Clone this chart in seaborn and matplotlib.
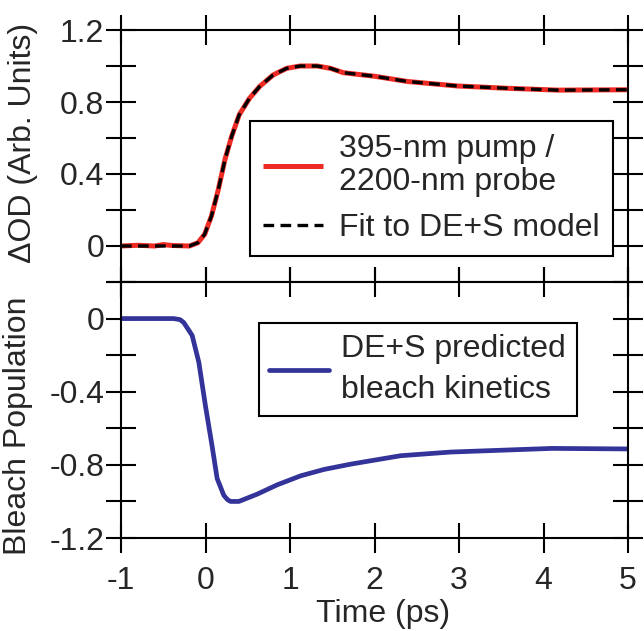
import matplotlib
matplotlib.use("Agg")
import matplotlib.pyplot as plt
import seaborn as sns
import pandas as pd
from matplotlib.ticker import FixedLocator, FixedFormatter

# ---- data ----
time_od = [-1.0, -0.8, -0.6, -0.5, -0.4, -0.19, -0.09, -0.01, 0.07, 0.15, 0.23,
           0.31, 0.40, 0.52, 0.64, 0.80, 0.96, 1.12, 1.32, 1.48, 1.63, 1.87,
           2.0, 2.39, 2.98, 3.58, 4.17, 5.0]
od_meas = [0.0, 0.004, 0.0, 0.008, 0.003, 0.0, 0.018, 0.065, 0.166, 0.31, 0.48,
           0.61, 0.73, 0.82, 0.886, 0.95, 0.987, 1.0, 1.0, 0.987, 0.963, 0.95,
           0.943, 0.914, 0.889, 0.876, 0.866, 0.868]
od_fit = [0.0, 0.0, 0.0, 0.0, 0.0, 0.0, 0.018, 0.065, 0.166, 0.31, 0.48,
          0.61, 0.73, 0.82, 0.886, 0.95, 0.987, 1.0, 1.0, 0.987, 0.963, 0.95,
          0.943, 0.914, 0.889, 0.876, 0.866, 0.868]

time_bl = [-1.0, -0.375, -0.30, -0.257, -0.158, -0.079, 0.0, 0.079, 0.138,
           0.217, 0.26, 0.296, 0.395, 0.613, 0.85, 1.126, 1.403, 1.72, 2.04,
           2.31, 2.9, 3.5, 4.1, 5.0]
bleach = [0.0, 0.0, -0.006, -0.022, -0.092, -0.239, -0.479, -0.70, -0.875,
          -0.967, -0.99, -1.0, -1.0, -0.96, -0.909, -0.86, -0.825, -0.796,
          -0.771, -0.75, -0.73, -0.72, -0.71, -0.713]

x_ticks = [-1, 0, 1, 2, 3, 4, 5]
x_labels = ["-1", "0", "1", "2", "3", "4", "5"]
top_yticks = [-0.2, 0.0, 0.2, 0.4, 0.6, 0.8, 1.0, 1.2]
top_ylabels = ["", "0", "", "0.4", "", "0.8", "", "1.2"]
bot_yticks = [-1.2, -1.0, -0.8, -0.6, -0.4, -0.2, 0.0, 0.2]
bot_ylabels = ["-1.2", "", "-0.8", "", "-0.4", "", "0", ""]

label_meas = "395-nm pump /\n2200-nm probe"
label_fit = "Fit to DE+S model"
label_bl = "DE+S predicted\nbleach kinetics"

sns.set_style("ticks")
plt.rcParams["font.family"] = ["Liberation Sans", "DejaVu Sans"]
FS = 23

W, H = 644, 631
fig = plt.figure(figsize=(W / 100, H / 100), dpi=100)
ax1 = fig.add_axes([121 / W, (H - 282) / H, 507 / W, 252 / H])
ax2 = fig.add_axes([121 / W, (H - 538) / H, 507 / W, 256 / H])

df_top = pd.DataFrame({"t": time_od, "meas": od_meas, "fit": od_fit})
df_bot = pd.DataFrame({"t": time_bl, "b": bleach})

sns.lineplot(data=df_top, x="t", y="meas", ax=ax1, color="#ee2a24", lw=3.6,
             label=label_meas, solid_capstyle="butt", solid_joinstyle="round")
sns.lineplot(data=df_top, x="t", y="fit", ax=ax1, color="black", lw=2.4,
             linestyle=(0, (3.2, 1.9)), label=label_fit)
sns.lineplot(data=df_bot, x="t", y="b", ax=ax2, color="#333399", lw=3.4,
             label=label_bl, solid_joinstyle="round")

for ax, yt, yl, lim in [(ax1, top_yticks, top_ylabels, (-0.2, 1.2)),
                        (ax2, bot_yticks, bot_ylabels, (-1.2, 0.2))]:
    ax.set_xlim(-1, 5)
    ax.set_ylim(*lim)
    ax.xaxis.set_major_locator(FixedLocator(x_ticks))
    ax.yaxis.set_major_locator(FixedLocator(yt))
    ax.yaxis.set_major_formatter(FixedFormatter(yl))
    for s in ax.spines.values():
        s.set_visible(True)
        s.set_linewidth(1.5)
        s.set_color("black")
    ax.tick_params(axis="both", which="major", direction="inout", length=22,
                   width=1.5, color="black", top=True, right=True,
                   labelsize=FS)
    ax.tick_params(axis="y", pad=1)
    ax.tick_params(axis="x", pad=9)

ax1.tick_params(axis="x", labelbottom=False)
ax2.xaxis.set_major_formatter(FixedFormatter(x_labels))

ax1.set_xlabel("")
ax1.set_ylabel("\u0394OD (Arb. Units)", fontsize=FS)
ax2.set_ylabel("Bleach Population", fontsize=FS)
ax2.set_xlabel("Time (ps)", fontsize=FS)
ax1.yaxis.set_label_coords(-0.164, 0.55)
ax2.yaxis.set_label_coords(-0.174, 0.44)
ax2.xaxis.set_label_coords(0.517, -0.24)

leg1 = ax1.legend(loc="lower left", bbox_to_anchor=(0.254, 0.103),
                  borderaxespad=0, fontsize=FS, frameon=True, fancybox=False,
                  framealpha=1, edgecolor="black", handlelength=1.9,
                  handletextpad=0.5, borderpad=0.4, labelspacing=0.5)
leg1.get_frame().set_linewidth(1.5)
for t in leg1.get_texts():
    t.set_linespacing(1.15)

leg2 = ax2.legend(loc="upper left", bbox_to_anchor=(0.272, 0.84),
                  borderaxespad=0, fontsize=FS, frameon=True, fancybox=False,
                  framealpha=1, edgecolor="black", handlelength=1.85,
                  handletextpad=0.4, borderpad=0.33)
leg2.get_frame().set_linewidth(1.5)
for t in leg2.get_texts():
    t.set_linespacing(1.5)

fig.savefig("out.png", dpi=100)
